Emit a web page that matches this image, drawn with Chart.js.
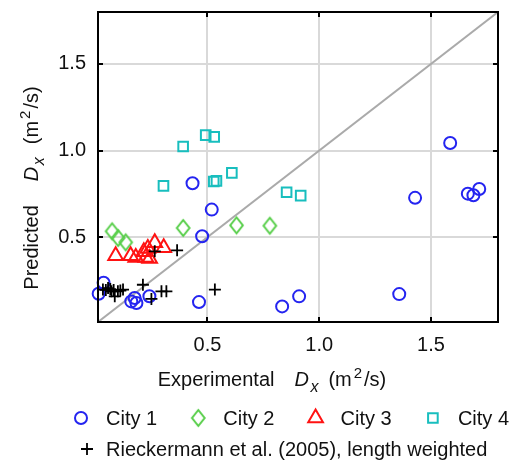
<!DOCTYPE html>
<html>
<head>
<meta charset="utf-8">
<script src="https://cdn.jsdelivr.net/npm/chart.js@4.4.1/dist/chart.umd.min.js"></script>
<style>
  html, body { margin: 0; padding: 0; background: #ffffff; }
  canvas { display: block; }
</style>
</head>
<body>
<canvas id="chart" width="530" height="460"></canvas>
<script>
// Axis range (both axes share it so the 1:1 line runs corner to corner)
const AXIS_MIN = 0.01;
const AXIS_MAX = 1.8;
const TICK_VALUES = [0.5, 1.0, 1.5];

// City 1 — experimental vs predicted longitudinal dispersion
const city1X = [1.586, 1.429, 1.665, 1.690, 1.716, 0.433, 0.519, 0.476, 1.358, 0.910, 0.834, 0.462, 0.035, 0.013, 0.159, 0.182, 0.174, 0.240];
const city1Y = [1.044, 0.727, 0.751, 0.742, 0.778, 0.811, 0.659, 0.505, 0.171, 0.158, 0.100, 0.125, 0.237, 0.173, 0.129, 0.120, 0.149, 0.159];

// City 2
const city2X = [0.073, 0.100, 0.134, 0.391, 0.630, 0.779];
const city2Y = [0.534, 0.495, 0.470, 0.553, 0.568, 0.566];

// City 3
const city3X = [0.089, 0.156, 0.179, 0.224, 0.241, 0.233, 0.264, 0.304, 0.215];
const city3Y = [0.393, 0.393, 0.382, 0.382, 0.376, 0.434, 0.468, 0.439, 0.416];

// City 4
const city4X = [0.492, 0.530, 0.391, 0.303, 0.528, 0.540, 0.609, 0.854, 0.917];
const city4Y = [1.089, 1.079, 1.023, 0.796, 0.821, 0.825, 0.871, 0.759, 0.740];

// Rieckermann et al. (2005), length weighted
const riekX = [0.032, 0.045, 0.055, 0.065, 0.070, 0.080, 0.085, 0.099, 0.110, 0.122, 0.211, 0.249, 0.294, 0.316, 0.533, 0.264, 0.364];
const riekY = [0.197, 0.195, 0.206, 0.200, 0.187, 0.195, 0.158, 0.187, 0.192, 0.197, 0.225, 0.143, 0.187, 0.187, 0.197, 0.418, 0.424];

const seriesNames = ['City 1', 'City 2', 'City 3', 'City 4', 'Rieckermann et al. (2005), length weighted'];

const FONT = "'Liberation Sans', Arial, Helvetica, sans-serif";
const FONT_SIZE = 20;
const TEXT_COLOR = '#111111';

const BLUE = 'rgb(36, 36, 240)';
const GREEN = 'rgb(86, 206, 72)';
const RED = 'rgb(255, 18, 18)';
const CYAN = 'rgb(24, 190, 190)';
const BLACK = '#000000';
const LINE_GRAY = '#aaaaaa';

const zip = (xs, ys) => xs.map((x, i) => ({ x: x, y: ys[i] }));

// Tall diamond marker, drawn once into a small canvas
function makeDiamond(color, hw, hh, lw) {
  const c = document.createElement('canvas');
  c.width = Math.ceil(2 * hw + lw + 4);
  c.height = Math.ceil(2 * hh + lw + 4);
  const g = c.getContext('2d');
  const cx = c.width / 2, cy = c.height / 2;
  g.strokeStyle = color;
  g.lineWidth = lw;
  g.lineJoin = 'miter';
  g.beginPath();
  g.moveTo(cx, cy - hh);
  g.lineTo(cx + hw, cy);
  g.lineTo(cx, cy + hh);
  g.lineTo(cx - hw, cy);
  g.closePath();
  g.stroke();
  return c;
}
const diamond = makeDiamond(GREEN, 6.3, 8, 2);

const markerStyles = [
  { pointStyle: 'circle', radius: 6, borderWidth: 2, color: BLUE },
  { pointStyle: diamond, radius: 7, borderWidth: 2, color: GREEN },
  { pointStyle: 'triangle', radius: 8.5, borderWidth: 2, color: RED },
  { pointStyle: 'rect', radius: 6.8, borderWidth: 2, color: CYAN },
  { pointStyle: 'cross', radius: 6, borderWidth: 1.8, color: BLACK }
];

function scatterSet(label, points, style, order) {
  return {
    label: label,
    data: points,
    pointStyle: style.pointStyle,
    pointRadius: style.radius,
    pointHoverRadius: style.radius,
    pointBorderWidth: style.borderWidth,
    borderColor: style.color,
    pointBorderColor: style.color,
    pointBackgroundColor: 'rgba(0,0,0,0)',
    backgroundColor: 'rgba(0,0,0,0)',
    showLine: false,
    clip: false,
    order: order
  };
}

// Measures / draws a run of text pieces (plain / italic / sub / superscript) along a baseline
function richWidth(ctx, parts) {
  let w = 0;
  parts.forEach(p => {
    w += p.gap || 0;
    ctx.font = (p.italic ? 'italic ' : '') + (p.size || FONT_SIZE) + 'px ' + FONT;
    w += ctx.measureText(p.text).width;
  });
  return w;
}
function drawRichCentered(ctx, parts, cx, y) {
  let x = cx - richWidth(ctx, parts) / 2;
  ctx.textBaseline = 'alphabetic';
  ctx.textAlign = 'left';
  parts.forEach(p => {
    x += p.gap || 0;
    ctx.font = (p.italic ? 'italic ' : '') + (p.size || FONT_SIZE) + 'px ' + FONT;
    ctx.fillText(p.text, x, y + (p.dy || 0));
    x += ctx.measureText(p.text).width;
  });
}

function unitParts(gapBefore, gapUnit) {
  return [
    { text: 'D', italic: true, gap: gapBefore },
    { text: 'x', italic: true, size: 16, dy: 6, gap: 1.5 },
    { text: '(m', gap: gapUnit },
    { text: '2', size: 15, dy: -8, gap: 2 },
    { text: '/s)', gap: 2 }
  ];
}
const xTitleParts = [{ text: 'Experimental' }].concat(unitParts(20, 10));
const yTitleParts = [{ text: 'Predicted' }].concat(unitParts(24, 13));

const decorations = {
  id: 'decorations',
  afterDatasetsDraw(chart) {
    const { ctx, chartArea: a, scales: { x, y } } = chart;
    ctx.save();
    ctx.strokeStyle = '#000000';
    ctx.lineWidth = 2;
    ctx.strokeRect(a.left, a.top, a.right - a.left, a.bottom - a.top);
    const t = 5;
    ctx.beginPath();
    TICK_VALUES.forEach(v => {
      const px = Math.round(x.getPixelForValue(v));
      ctx.moveTo(px, a.bottom); ctx.lineTo(px, a.bottom - t);
      ctx.moveTo(px, a.top); ctx.lineTo(px, a.top + t);
      const py = Math.round(y.getPixelForValue(v));
      ctx.moveTo(a.left, py); ctx.lineTo(a.left + t, py);
      ctx.moveTo(a.right, py); ctx.lineTo(a.right - t, py);
    });
    ctx.stroke();
    ctx.restore();
  },
  afterDraw(chart) {
    const { ctx } = chart;
    ctx.save();
    ctx.fillStyle = TEXT_COLOR;

    // axis titles
    drawRichCentered(ctx, xTitleParts, 272, 386);
    ctx.save();
    ctx.translate(38, 188);
    ctx.rotate(-Math.PI / 2);
    drawRichCentered(ctx, yTitleParts, 0, 0);
    ctx.restore();

    // legend
    const H = Chart.helpers;
    const rows = [
      { y: 418, items: [0, 1, 2, 3], x0: 81, step: 117.3 },
      { y: 449, items: [4], x0: 87, step: 0 }
    ];
    rows.forEach(row => {
      row.items.forEach((idx, k) => {
        const st = markerStyles[idx];
        const mx = row.x0 + k * row.step;
        ctx.save();
        ctx.strokeStyle = st.color;
        ctx.fillStyle = 'rgba(0,0,0,0)';
        ctx.lineWidth = st.borderWidth;
        H.drawPoint(ctx, { pointStyle: st.pointStyle, radius: st.radius, borderWidth: st.borderWidth, rotation: 0 }, mx, row.y);
        ctx.restore();
        ctx.font = FONT_SIZE + 'px ' + FONT;
        ctx.textBaseline = 'middle';
        ctx.textAlign = 'left';
        ctx.fillStyle = TEXT_COLOR;
        ctx.fillText(seriesNames[idx], idx === 4 ? 106 : mx + 25, row.y + 1);
      });
    });
    ctx.restore();
  }
};

const tickFont = { family: FONT, size: FONT_SIZE };
const useTicks = s => { s.ticks = TICK_VALUES.map(v => ({ value: v })); };

new Chart(document.getElementById('chart'), {
  type: 'scatter',
  data: {
    datasets: [
      scatterSet(seriesNames[4], zip(riekX, riekY), markerStyles[4], 0),
      scatterSet(seriesNames[3], zip(city4X, city4Y), markerStyles[3], 1),
      scatterSet(seriesNames[2], zip(city3X, city3Y), markerStyles[2], 2),
      scatterSet(seriesNames[1], zip(city2X, city2Y), markerStyles[1], 3),
      scatterSet(seriesNames[0], zip(city1X, city1Y), markerStyles[0], 4),
      {
        label: '1:1',
        data: [{ x: AXIS_MIN, y: AXIS_MIN }, { x: AXIS_MAX, y: AXIS_MAX }],
        showLine: true,
        borderColor: LINE_GRAY,
        borderWidth: 2,
        pointRadius: 0,
        pointHoverRadius: 0,
        order: 5
      }
    ]
  },
  options: {
    responsive: false,
    devicePixelRatio: 1,
    animation: false,
    events: [],
    layout: { padding: { left: 0, right: 32, top: 12, bottom: 0 } },
    plugins: {
      legend: { display: false },
      tooltip: { enabled: false },
      title: { display: false }
    },
    scales: {
      x: {
        type: 'linear',
        min: AXIS_MIN,
        max: AXIS_MAX,
        afterBuildTicks: useTicks,
        afterFit: s => { s.height = 138; s.paddingLeft = 0; s.paddingRight = 0; },
        border: { display: false },
        grid: { color: '#d9d9d9', lineWidth: 2, drawTicks: false },
        ticks: { font: tickFont, color: TEXT_COLOR, padding: 11, maxRotation: 0, callback: v => v.toFixed(1) }
      },
      y: {
        type: 'linear',
        min: AXIS_MIN,
        max: AXIS_MAX,
        afterBuildTicks: useTicks,
        afterFit: s => { s.width = 98; s.paddingTop = 0; s.paddingBottom = 0; },
        border: { display: false },
        grid: { color: '#d9d9d9', lineWidth: 2, drawTicks: false },
        ticks: { font: tickFont, color: TEXT_COLOR, padding: 12, callback: v => v.toFixed(1) }
      }
    }
  },
  plugins: [decorations]
});
</script>
</body>
</html>
